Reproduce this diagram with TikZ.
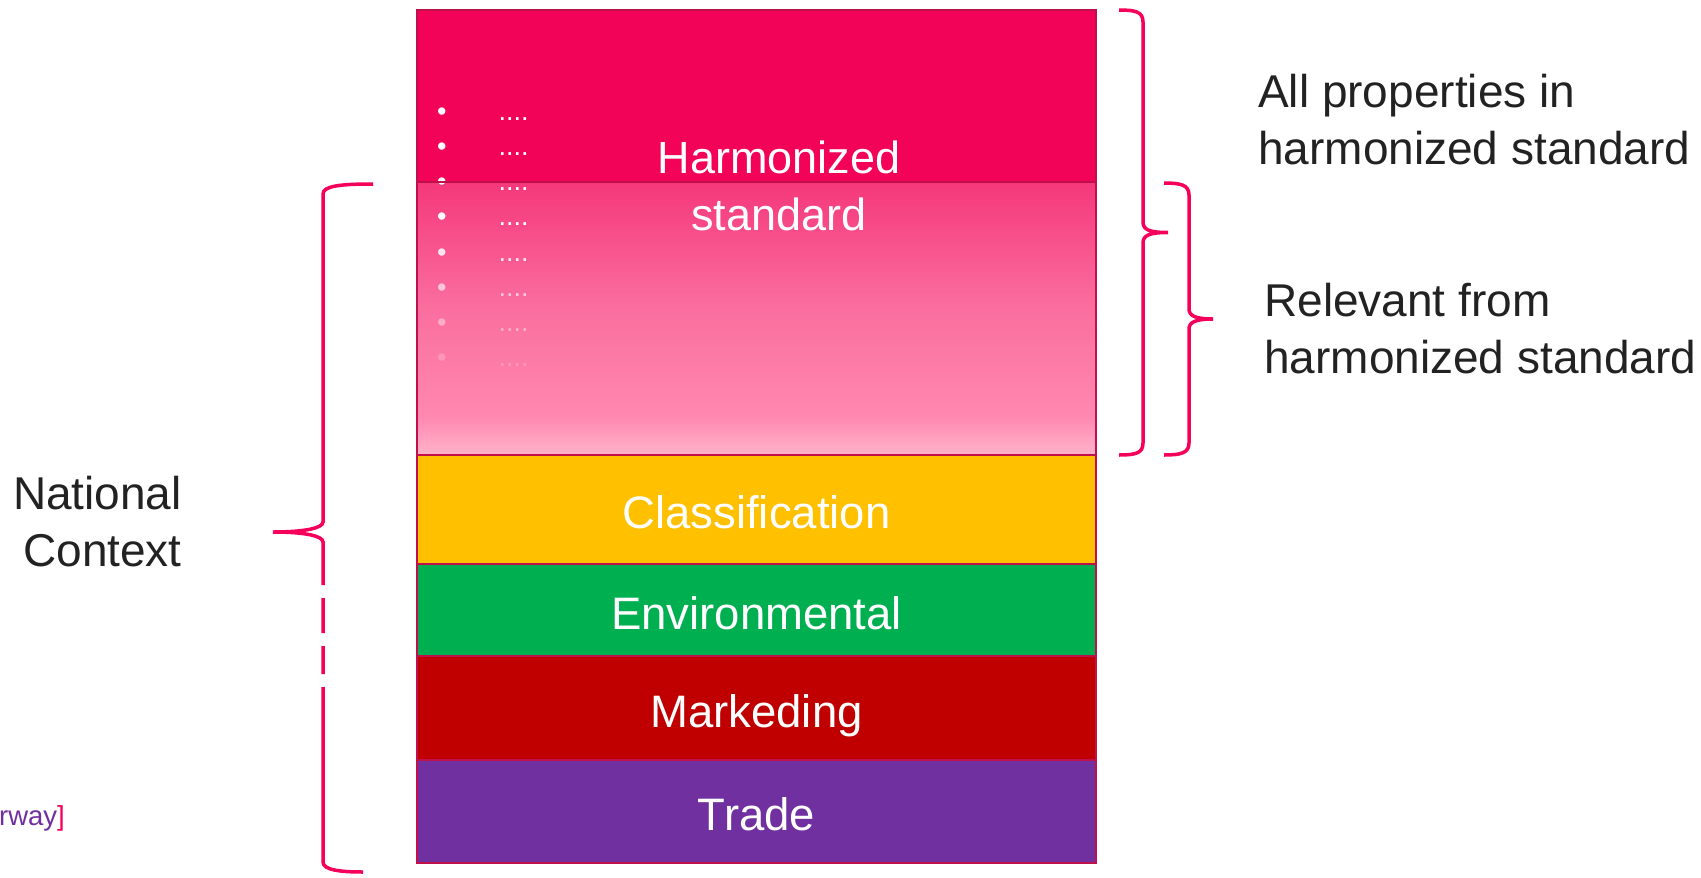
\documentclass[tikz,border=0pt]{standalone}
\usepackage{fontspec}
\setmainfont{Liberation Sans}
\usetikzlibrary{positioning}
\definecolor{harmred}{HTML}{F30357}
\definecolor{boxline}{HTML}{C0104C}
\definecolor{bracered}{HTML}{F5005A}
\definecolor{classyellow}{HTML}{FFC000}
\definecolor{envgreen}{HTML}{00B050}
\definecolor{markred}{HTML}{C00000}
\definecolor{tradepurple}{HTML}{7030A0}
\definecolor{sidegrey}{HTML}{222222}
\definecolor{fadetop}{HTML}{F5387A}
\definecolor{fademid}{HTML}{FA6E9E}
\definecolor{fadelow}{HTML}{FF88B0}
\definecolor{fadebot}{HTML}{FFB3CB}
\pgfdeclareverticalshading{harmfade}{100bp}{color(0bp)=(fadebot); color(25bp)=(fadebot);
  color(32bp)=(fadelow); color(52bp)=(fademid); color(75bp)=(fadetop); color(100bp)=(fadetop)}

\begin{document}
\begin{tikzpicture}[x=1pt, y=-1pt,
    layer/.style = {draw=boxline, line width=2.5pt, minimum width=679pt, inner sep=0pt,
      outer sep=0pt, text=white, text height=38pt, text depth=0pt,
      font=\fontsize{45.5}{57}\selectfont},
    sidetext/.style = {inner sep=0pt, text=sidegrey, font=\fontsize{46}{57}\selectfont},
    dotrow/.style = {inner sep=0pt, anchor=base west, text=white, font=\fontsize{27}{30}\selectfont},
    bracket/.style = {draw=bracered, line width=3.5pt}]
  \useasboundingbox (0,0) rectangle (1701,878);

  % layers of the stack
  \node[layer, fill=harmred, minimum height=172pt] (harmtop) at (756.5,96) {};
  \node[layer, shading=harmfade, minimum height=273pt, below=0pt of harmtop] (harmfade) {};
  \node[layer, fill=classyellow, minimum height=109pt, below=0pt of harmfade] (classif) {Classification};
  \node[layer, fill=envgreen, minimum height=92pt, below=0pt of classif] (environ) {Environmental};
  \node[layer, fill=markred, minimum height=104pt, below=0pt of environ] (marked) {Markeding};
  \node[layer, fill=tradepurple, minimum height=103pt, below=0pt of marked] (trade) {Trade};

  % fading list
  \foreach \y/\op in {110/1, 145/1, 180/1, 215/1, 251/.85, 286/.62, 321/.42, 356/.22}
    \node[dotrow, text opacity=\op] (row\y) at (437,{\y+10.5}) {\textbullet\hspace{52pt}....};
  \draw[draw=boxline, line width=2.5pt] (harmfade.north west) -- (harmfade.north east);

  \node[inner sep=0pt, align=center, text=white, font=\fontsize{45}{57}\selectfont]
    (harmtext) at (779,186) {Harmonized\\standard};

  % braces
  \draw[bracket] (1119,10) .. controls (1136,10) and (1143,12) .. (1143,22) -- (1143,222)
    .. controls (1143,230) and (1150,232.5) .. (1168,232.5)
    .. controls (1150,232.5) and (1143,235) .. (1143,243) -- (1143,443)
    .. controls (1143,453) and (1136,455) .. (1119,455);
  \draw[bracket] (1164,183) .. controls (1181,183) and (1189,185) .. (1189,195) -- (1189,309)
    .. controls (1189,316) and (1196,319) .. (1213,319)
    .. controls (1196,319) and (1189,322) .. (1189,329) -- (1189,443)
    .. controls (1189,453) and (1181,455) .. (1164,455);
  \draw[bracket] (373,184) .. controls (340,184) and (323,186) .. (323,194) -- (323,522)
    .. controls (323,528) and (305,532) .. (273,532)
    .. controls (305,532) and (323,536) .. (323,542) -- (323,585);
  \draw[bracket, dash pattern=on 35pt off 13pt on 28pt off 13pt on 600pt]
    (323,598) -- (323,862) .. controls (323,870) and (340,872) .. (363,872);

  % side labels
  \node[sidetext, align=left, anchor=west] (alltext) at (1258,120) {All properties in\\harmonized standard};
  \node[sidetext, align=left, anchor=west] (reltext) at (1264,329) {Relevant from\\harmonized standard};
  \node[sidetext, align=right, anchor=east] (natctx) at (182,522) {National\\Context};
  \node[inner sep=0pt, anchor=base east, font=\fontsize{27.5}{30}\selectfont]
    (country) at (65,825) {\textcolor{tradepurple}{rway}\textcolor{bracered}{]}};
\end{tikzpicture}
\end{document}
